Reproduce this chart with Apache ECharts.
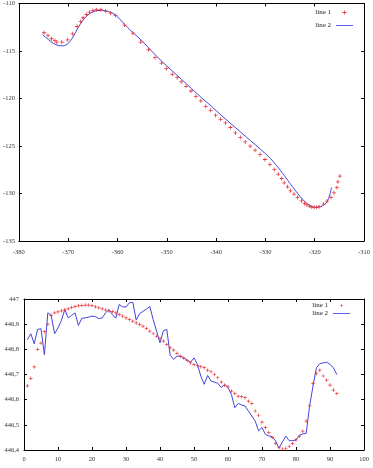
<!DOCTYPE html>
<html>
<head>
<meta charset="utf-8">
<script src="https://cdn.jsdelivr.net/npm/echarts@6/dist/echarts.min.js"></script>
<style>
  html, body { margin: 0; padding: 0; background: #fff; }
  #chart { width: 373px; height: 468px; }
</style>
</head>
<body>
<div id="chart"></div>
<script>
// top plot: [x, y] pairs
const topLine1 = [
  [-374.9, -113.08], [-374.1, -113.36], [-373.4, -113.71], [-372.7, -113.89], [-372.3, -114.06],
  [-371.3, -114.06], [-370.1, -113.82], [-369.1, -113.19], [-368.2, -112.42], [-367.5, -111.89],
  [-367.0, -111.5], [-366.3, -111.16], [-365.7, -110.91], [-365.0, -110.74], [-364.3, -110.66],
  [-363.4, -110.66], [-362.4, -110.8], [-361.4, -111.02], [-360.4, -111.26], [-358.6, -112.28],
  [-356.9, -113.12], [-355.3, -114.06], [-353.7, -114.87], [-352.4, -115.7], [-351.1, -116.27],
  [-350.1, -116.86], [-348.9, -117.46], [-347.9, -117.81], [-347.1, -118.26], [-346.1, -118.72],
  [-345.1, -119.21], [-344.1, -119.77], [-343.1, -120.26], [-342.1, -120.82], [-341.1, -121.24],
  [-340.1, -121.76], [-339.1, -122.19], [-338.1, -122.57], [-337.1, -123.05], [-336.1, -123.62],
  [-335.1, -124.11], [-334.1, -124.57], [-333.1, -125.02], [-332.1, -125.44], [-331.1, -125.9],
  [-330.1, -126.42], [-329.1, -126.95], [-328.2, -127.47], [-327.4, -127.96], [-326.7, -128.42],
  [-326.2, -128.88], [-325.5, -129.3], [-324.9, -129.72], [-324.2, -130.06], [-323.5, -130.41],
  [-322.7, -130.77], [-322.1, -131.04], [-321.6, -131.2], [-321.1, -131.32], [-320.6, -131.42],
  [-320.1, -131.46], [-319.6, -131.45], [-319.1, -131.39], [-318.2, -131.11], [-317.5, -130.8],
  [-316.7, -130.41], [-316.1, -129.93], [-315.5, -129.36], [-315.3, -128.77], [-314.9, -128.17]
]
const topLine2 = [
  [-375.2, -113.3], [-374, -113.8], [-373, -114.2], [-372, -114.42], [-371, -114.45],
  [-370, -114.2], [-369, -113.5], [-368, -112.55], [-367, -111.75], [-366, -111.2],
  [-365, -110.88], [-364, -110.74], [-363, -110.73], [-362, -110.82], [-361, -111.02],
  [-360, -111.4], [-359, -111.95], [-358, -112.5], [-357, -113.0], [-355, -113.95],
  [-353, -115.05], [-351, -116.1], [-349, -117.05], [-347, -118.0], [-345, -118.95],
  [-343, -119.9], [-341, -120.8], [-339, -121.75], [-337, -122.65], [-335, -123.55],
  [-333, -124.45], [-331, -125.35], [-329, -126.3], [-327, -127.55], [-325, -128.95],
  [-323, -130.3], [-322, -130.85], [-321, -131.25], [-320, -131.45], [-319, -131.42],
  [-318, -131.15], [-317.5, -130.85], [-317, -130.25], [-316.6, -129.35]
]

// bottom plot
const botX = [
  1, 2, 3, 4, 5, 6, 7, 8, 9, 10, 11, 12, 13, 14, 15, 16, 17, 18, 19, 20,
  21, 22, 23, 24, 25, 26, 27, 28, 29, 30, 31, 32, 33, 34, 35, 36, 37, 38, 39, 40,
  41, 42, 43, 44, 45, 46, 47, 48, 49, 50, 51, 52, 53, 54, 55, 56, 57, 58, 59, 60,
  61, 62, 63, 64, 65, 66, 67, 68, 69, 70, 71, 72, 73, 74, 75, 76, 77, 78, 79, 80,
  81, 82, 83, 84, 85, 86, 87, 88, 89, 90, 91, 92
]
const botLine1 = [
  446.655, 446.685, 446.73, 446.80, 446.825, 446.87, 446.90, 446.935, 446.945, 446.949,
  446.953, 446.957, 446.961, 446.966, 446.970, 446.973, 446.975, 446.976, 446.976, 446.974,
  446.969, 446.965, 446.961, 446.956, 446.952, 446.950, 446.945, 446.938, 446.932, 446.925,
  446.919, 446.912, 446.905, 446.899, 446.892, 446.883, 446.872, 446.863, 446.852, 446.842,
  446.833, 446.819, 446.806, 446.797, 446.784, 446.773, 446.765, 446.756, 446.746, 446.740,
  446.735, 446.731, 446.727, 446.717, 446.711, 446.700, 446.687, 446.670, 446.657, 446.651,
  446.634, 446.625, 446.614, 446.612, 446.608, 446.594, 446.585, 446.555, 446.538, 446.511,
  446.489, 446.470, 446.450, 446.425, 446.410, 446.404, 446.407, 446.415, 446.425, 446.440,
  446.455, 446.475, 446.515, 446.575, 446.665, 446.704, 446.717, 446.694, 446.678, 446.658,
  446.638, 446.625
]
const botLine2 = [
  446.838, 446.862, 446.822, 446.879, 446.882, 446.778, 446.945, 446.935, 446.862, 446.885,
  446.915, 446.958, 446.925, 446.935, 446.945, 446.895, 446.923, 446.925, 446.928, 446.932,
  446.930, 446.922, 446.925, 446.945, 446.958, 446.938, 446.924, 446.978, 446.969, 446.968,
  446.985, 446.987, 446.916, 446.942, 446.951, 446.960, 446.970, 446.918, 446.872, 446.826,
  446.874, 446.879, 446.776, 446.760, 446.773, 446.773, 446.766, 446.757, 446.749, 446.766,
  446.740, 446.694, 446.661, 446.696, 446.674, 446.670, 446.665, 446.648, 446.661, 446.648,
  446.621, 446.568, 446.585, 446.579, 446.575, 446.555, 446.535, 446.515, 446.476, 446.489,
  446.462, 446.456, 446.453, 446.436, 446.407, 446.432, 446.455, 446.437, 446.437, 446.440,
  446.458, 446.464, 446.466, 446.575, 446.654, 446.727, 446.743, 446.746, 446.749, 446.740,
  446.727, 446.700
]

const seriesNames = ["line 1", "line 2"]

const RED = "#e8383d"
const BLUE = "#4444dd"
const FONT = "Liberation Serif"
const plus = "path://M2,0h1v2h2v1h-2v2h-1v-2h-2v-1h2z"
const dash = "path://M0,0h20v1h-20z"

const chart = echarts.init(document.getElementById("chart"))

function axisBase(extra) {
  return Object.assign({
    type: "value",
    axisLine: { show: true, onZero: false, lineStyle: { color: "#000", width: 1 } },
    axisTick: { show: true, inside: true, length: 3, lineStyle: { color: "#000" } },
    splitLine: { show: false },
    axisLabel: { color: "#333", fontFamily: FONT, fontSize: 6.5 }
  }, extra)
}

// mirror axes (gnuplot draws ticks on all four sides)
function mirror(extra) {
  return axisBase(Object.assign({ axisLabel: { show: false } }, extra))
}

const fmtBot = v => Math.abs(v - 447) < 1e-6 ? "447" : v.toFixed(1).replace(".", ",")

// points only: a line series with an invisible line, so the legend centres the marker
function points(name, x, y, data, size) {
  return {
    name, type: "line", xAxisIndex: x, yAxisIndex: y,
    symbol: plus, symbolSize: size, showSymbol: true,
    lineStyle: { opacity: 0 }, itemStyle: { color: RED },
    data
  }
}

function curve(name, x, y, data, smooth) {
  return {
    name, type: "line", xAxisIndex: x, yAxisIndex: y,
    symbol: "none", smooth, lineStyle: { color: BLUE, width: 1 }, itemStyle: { color: BLUE },
    data
  }
}

function legendAt(top, right, gap, h) {
  return {
    orient: "vertical", right, top, align: "right",
    itemWidth: 17, itemHeight: h, itemGap: gap, symbolKeepAspect: true,
    textStyle: { fontFamily: FONT, fontSize: 7, color: "#222" },
    data: [{ name: seriesNames[0] }, { name: seriesNames[1], icon: dash }]
  }
}

chart.setOption({
  animation: false,
  backgroundColor: "#fff",
  grid: [
    { left: 17, top: 3, width: 350, height: 238 },
    { left: 24, top: 299, width: 340, height: 151 }
  ],
  xAxis: [
    axisBase({ gridIndex: 0, min: -380, max: -310, interval: 10,
      axisLabel: { color: "#333", fontFamily: FONT, fontSize: 6.5, margin: 8 } }),
    axisBase({ gridIndex: 1, min: 0, max: 100, interval: 10,
      axisLabel: { color: "#333", fontFamily: FONT, fontSize: 6.5, margin: 6 } }),
    mirror({ gridIndex: 0, position: "top", min: -380, max: -310, interval: 10 }),
    mirror({ gridIndex: 1, position: "top", min: 0, max: 100, interval: 10 })
  ],
  yAxis: [
    axisBase({ gridIndex: 0, min: -135, max: -110, interval: 5,
      axisLabel: { color: "#333", fontFamily: FONT, fontSize: 6.5, margin: 4 } }),
    axisBase({ gridIndex: 1, min: 446.4, max: 447, interval: 0.1,
      axisLabel: { color: "#333", fontFamily: FONT, fontSize: 6.5, margin: 5, formatter: fmtBot } }),
    mirror({ gridIndex: 0, position: "right", min: -135, max: -110, interval: 5 }),
    mirror({ gridIndex: 1, position: "right", min: 446.4, max: 447, interval: 0.1 })
  ],
  legend: [
    legendAt(4, 14, 6, 5),
    legendAt(297, 17, 1, 4)
  ],
  series: [
    points(seriesNames[0], 0, 0, topLine1, 4),
    curve(seriesNames[1], 0, 0, topLine2, 0.3),
    points(seriesNames[0], 1, 1, botX.map((x, i) => [x, botLine1[i]]), 3.5),
    curve(seriesNames[1], 1, 1, botX.map((x, i) => [x, botLine2[i]]), false)
  ]
})
</script>
</body>
</html>
